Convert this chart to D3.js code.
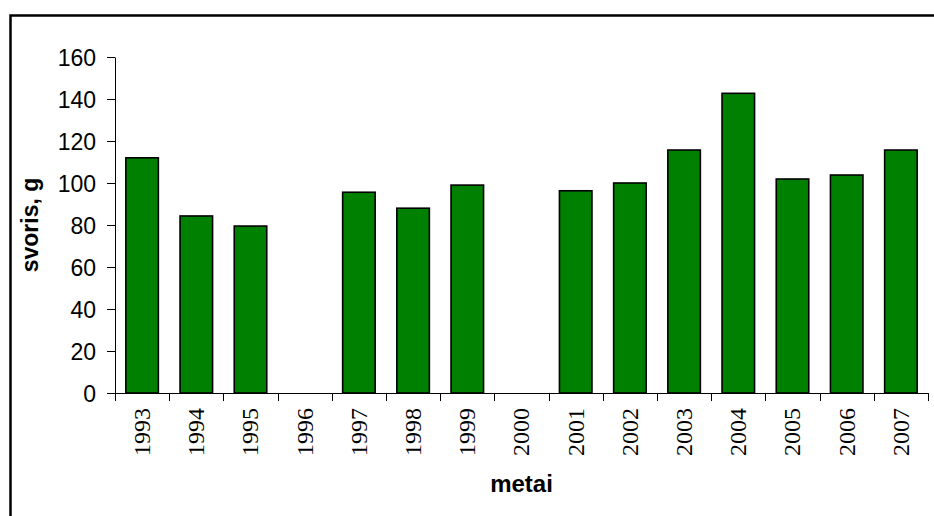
<!DOCTYPE html>
<html>
<head>
<meta charset="utf-8">
<script src="https://cdn.jsdelivr.net/npm/d3@7/dist/d3.min.js"></script>
<style>
  html, body { margin: 0; padding: 0; background: #fff; }
  svg { display: block; }
</style>
</head>
<body>
<svg id="chart" width="934" height="516"></svg>
<script>
const years = ["1993","1994","1995","1996","1997","1998","1999","2000","2001","2002","2003","2004","2005","2006","2007"];
const weights = [112, 84.3, 79.5, null, 95.6, 88, 99, null, 96.3, 100, 115.7, 142.7, 101.9, 103.8, 115.7];
const yTicks = [0, 20, 40, 60, 80, 100, 120, 140, 160];
const xTitle = "metai";
const yTitle = "svoris, g";

const svg = d3.select("#chart");
const W = 934, H = 516;
const plot = { left: 115, right: 928, top: 57, bottom: 393 };

// outer frame
svg.append("rect")
  .attr("x", 10.5).attr("y", 15.5)
  .attr("width", 960).attr("height", 560)
  .attr("fill", "#fff").attr("stroke", "#000").attr("stroke-width", 2.5);

const x = d3.scaleBand().domain(years).range([plot.left, plot.right]).paddingInner(0.4).paddingOuter(0.2);
const y = d3.scaleLinear().domain([0, 160]).range([plot.bottom, plot.top]);

// bars
const data = years.map((yr, i) => ({ yr, v: weights[i] })).filter(d => d.v != null);
svg.append("g").selectAll("rect").data(data).join("rect")
  .attr("x", d => x(d.yr))
  .attr("y", d => y(d.v))
  .attr("width", x.bandwidth())
  .attr("height", d => y(0) - y(d.v))
  .attr("fill", "#008000")
  .attr("stroke", "#000")
  .attr("stroke-width", 1.6);

// y axis
const yAxis = svg.append("g").attr("transform", `translate(${plot.left},0)`)
  .call(d3.axisLeft(y).tickValues(yTicks).tickSize(8).tickPadding(11).tickSizeOuter(0));
yAxis.select(".domain").attr("stroke", "#000");
yAxis.selectAll(".tick line").attr("stroke", "#000");
yAxis.selectAll(".tick text")
  .attr("font-family", "'Liberation Sans', Arial, sans-serif")
  .attr("font-size", 23).attr("fill", "#000").attr("dy", "0.36em");

// x axis: domain line + ticks at category boundaries
const step = x.step();
const boundaries = d3.range(years.length + 1).map(i => plot.left + i * (plot.right - plot.left) / years.length);
const xg = svg.append("g");
xg.append("line")
  .attr("x1", plot.left).attr("x2", plot.right)
  .attr("y1", plot.bottom + 0.5).attr("y2", plot.bottom + 0.5)
  .attr("stroke", "#000");
xg.selectAll("line.tk").data(boundaries).join("line").attr("class", "tk")
  .attr("x1", d => Math.round(d) + 0.5).attr("x2", d => Math.round(d) + 0.5)
  .attr("y1", plot.bottom).attr("y2", plot.bottom + 8)
  .attr("stroke", "#000");
xg.selectAll("text").data(years).join("text")
  .attr("transform", d => `translate(${x(d) + x.bandwidth() / 2},${plot.bottom + 15}) rotate(-90)`)
  .attr("dy", "0.33em")
  .attr("text-anchor", "end")
  .attr("font-family", "'Liberation Serif', 'Times New Roman', serif")
  .attr("font-size", 24).attr("fill", "#000")
  .text(d => d);

// axis titles
svg.append("text")
  .attr("x", (plot.left + plot.right) / 2).attr("y", 491.5)
  .attr("text-anchor", "middle")
  .attr("font-family", "'Liberation Sans', Arial, sans-serif")
  .attr("font-weight", "bold").attr("font-size", 24).attr("fill", "#000")
  .text(xTitle);

svg.append("text")
  .attr("transform", `translate(38,${(plot.top + plot.bottom) / 2}) rotate(-90)`)
  .attr("text-anchor", "middle")
  .attr("font-family", "'Liberation Sans', Arial, sans-serif")
  .attr("font-weight", "bold").attr("font-size", 23).attr("fill", "#000")
  .text(yTitle);
</script>
</body>
</html>
